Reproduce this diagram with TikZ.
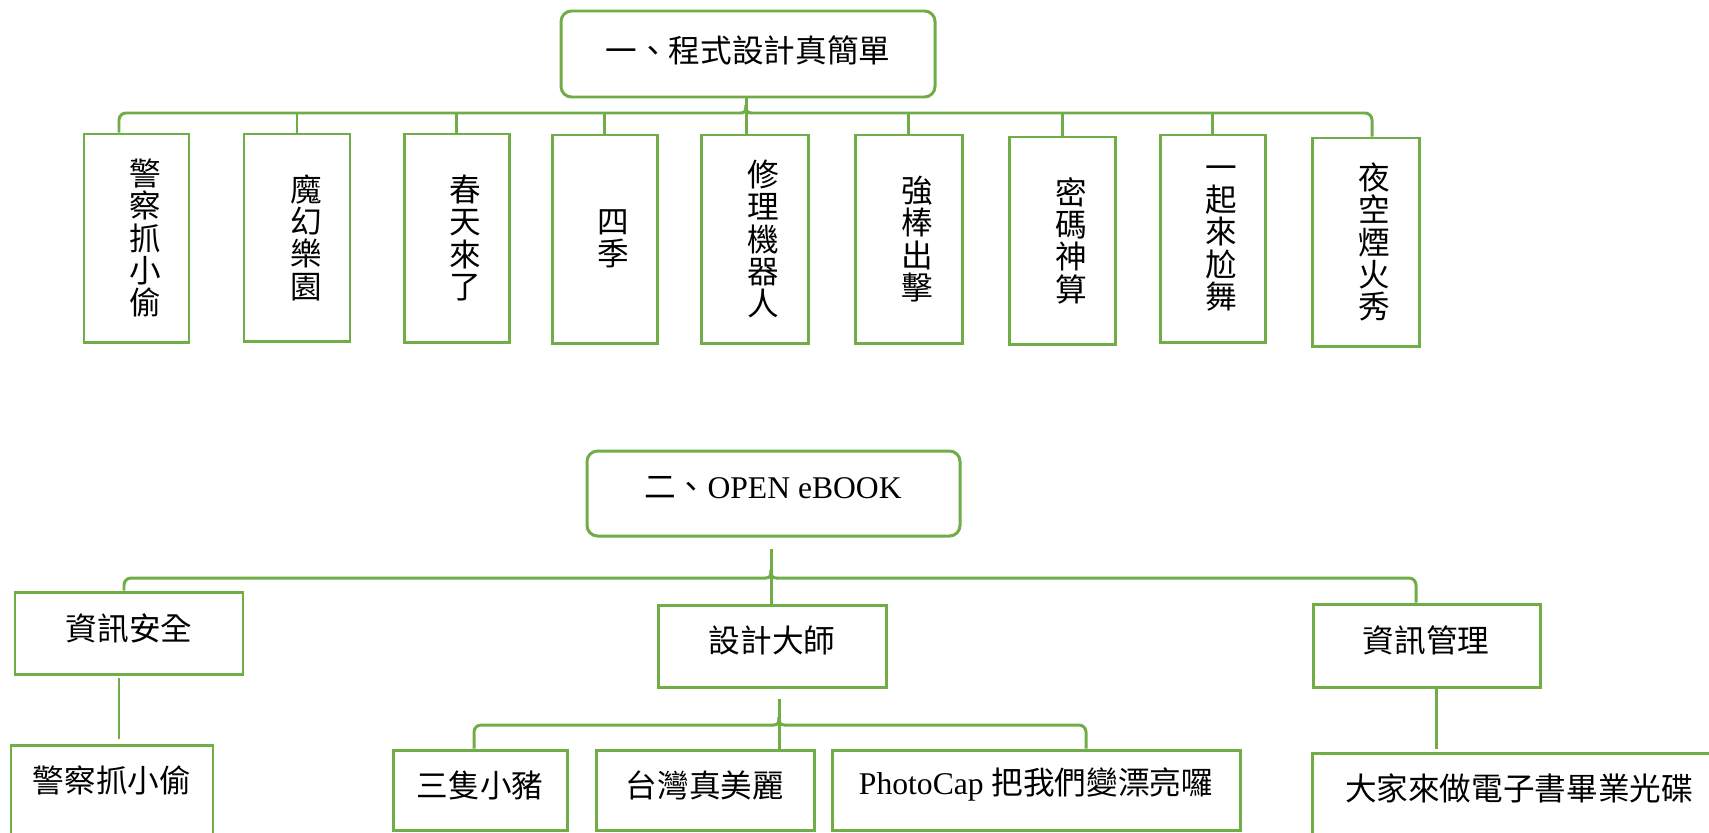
\documentclass[tikz,border=0pt]{standalone}
\usepackage{fontspec}
\setmainfont{Liberation Serif}
\newfontfamily\cjk{Noto Sans CJK TC}
\usetikzlibrary{calc,fit}
\definecolor{grn}{HTML}{70AD47}
\begin{document}
\begin{tikzpicture}[x=0.02cm,y=-0.02cm,
  box/.style={draw=grn, line width=1.7pt, inner sep=0pt, fill=none},
  rbox/.style={box, rounded corners=6pt},
  lbl/.style={font=\fontsize{18}{18}\selectfont, inner sep=0pt},
  vlbl/.style={font=\cjk\fontsize{18}{18.4}\selectfont, inner sep=0pt, align=center},
  conn/.style={draw=grn, line width=1.7pt}]
\clip (0,0) rectangle (1709,832);
\fill[white] (0,0) rectangle (1709,832);
% ---------- top tree ----------
\node[rbox, fit={(561,11) (935,97)}] (r1) {};
\node[lbl] (r1t) at (748,50) {\cjk 一、程式設計真簡單};
\node[box, fit={(84,134) (189,342)}] (b1) {};
\node[box, fit={(244,134) (350,341)}] (b2) {};
\node[box, fit={(404,134) (509,342)}] (b3) {};
\node[box, fit={(552,135) (657,343)}] (b4) {};
\node[box, fit={(701,135) (808,343)}] (b5) {};
\node[box, fit={(855,135) (962,343)}] (b6) {};
\node[box, fit={(1009,137) (1115,344)}] (b7) {};
\node[box, fit={(1160,135) (1265,342)}] (b8) {};
\node[box, fit={(1312,138) (1419,346)}] (b9) {};
\node[vlbl] (t1) at ($(b1.center)+(9,0)$) {警\\察\\抓\\小\\偷};
\node[vlbl] (t2) at ($(b2.center)+(9,0)$) {魔\\幻\\樂\\園};
\node[vlbl] (t3) at ($(b3.center)+(9,0)$) {春\\天\\來\\了};
\node[vlbl] (t4) at ($(b4.center)+(9,0)$) {四\\季};
\node[vlbl] (t5) at ($(b5.center)+(9,0)$) {修\\理\\機\\器\\人};
\node[vlbl] (t6) at ($(b6.center)+(9,0)$) {強\\棒\\出\\擊};
\node[vlbl] (t7) at ($(b7.center)+(9,0)$) {密\\碼\\神\\算};
\node[vlbl] (t8) at ($(b8.center)+(9,0)$) {一\\起\\來\\尬\\舞};
\node[vlbl] (t9) at ($(b9.center)+(9,0)$) {夜\\空\\煙\\火\\秀};
\coordinate (busL) at (119,113);
\coordinate (busR) at (1372,113);
\coordinate (busC) at (746,113);
\draw[conn] (busC |- r1.south) -- (busC |- b5.north);
\draw[conn,rounded corners=4pt] (busL |- b1.north) -- (busL) -- ($(busC)+(-5,0)$);
\draw[conn] ($(busC)+(-5.5,0)$) .. controls ($(busC)+(-1,0)$) and ($(busC)+(0,-2)$) .. ($(busC)+(0,-8)$);
\draw[conn,rounded corners=4pt] (busR |- b9.north) -- (busR) -- ($(busC)+(5,0)$);
\draw[conn] ($(busC)+(5.5,0)$) .. controls ($(busC)+(1,0)$) and ($(busC)+(0,-2)$) .. ($(busC)+(0,-8)$);
\foreach \b in {b2,b3,b4,b6,b7,b8}{
  \draw[conn] (\b.north) -- (\b.north |- busC);
}
% ---------- bottom tree ----------
\node[rbox, fit={(587,451) (960,536)}] (r2) {};
\node[lbl] (r2t) at (773,488) {{\cjk 二、}OPEN eBOOK};
\node[box, fit={(15,592) (243,674)}] (s1) {};
\node[box, fit={(658,605) (886,687)}] (s2) {};
\node[box, fit={(1313,604) (1540,687)}] (s3) {};
\node[lbl] (s1t) at (129,628) {\cjk 資訊安全};
\node[lbl] (s2t) at (772,640) {\cjk 設計大師};
\node[lbl] (s3t) at (1426,640) {\cjk 資訊管理};
\node[box, fit={(11,745) (213,900)}] (c1) {};
\node[box, fit={(393,750) (567,830)}] (d1) {};
\node[box, fit={(596,750) (814,830)}] (d2) {};
\node[box, fit={(832,750) (1240,830)}] (d3) {};
\node[box, fit={(1312,753) (1760,900)}] (c3) {};
\node[lbl] (c1t) at (112,780) {\cjk 警察抓小偷};
\node[lbl] (d1t) at (480,785) {\cjk 三隻小豬};
\node[lbl] (d2t) at (705,785) {\cjk 台灣真美麗};
\node[lbl] (d3t) at (1036,785) {PhotoCap {\cjk 把我們變漂亮囉}};
\node[lbl] (c3t) at (1519,788) {\cjk 大家來做電子書畢業光碟};
% main bus
\coordinate (bus2L) at (124,578);
\coordinate (bus2R) at (1416,578);
\coordinate (bus2C) at (771,578);
\draw[conn] ($(r2.south -| bus2C)+(0,11)$) -- (bus2C |- s2.north);
\draw[conn,rounded corners=4pt] (bus2L |- s1.north) -- (bus2L) -- ($(bus2C)+(-5,0)$);
\draw[conn] ($(bus2C)+(-5.5,0)$) .. controls ($(bus2C)+(-1,0)$) and ($(bus2C)+(0,-2)$) .. ($(bus2C)+(0,-8)$);
\draw[conn,rounded corners=4pt] (bus2R |- s3.north) -- (bus2R) -- ($(bus2C)+(5,0)$);
\draw[conn] ($(bus2C)+(5.5,0)$) .. controls ($(bus2C)+(1,0)$) and ($(bus2C)+(0,-2)$) .. ($(bus2C)+(0,-8)$);
% sub bus
\coordinate (bus3L) at (474,725);
\coordinate (bus3R) at (1086,725);
\coordinate (bus3C) at (779,725);
\draw[conn] ($(s2.south -| bus3C)+(0,10)$) -- (bus3C |- d2.north);
\draw[conn,rounded corners=4pt] (bus3L |- d1.north) -- (bus3L) -- ($(bus3C)+(-5,0)$);
\draw[conn] ($(bus3C)+(-5.5,0)$) .. controls ($(bus3C)+(-1,0)$) and ($(bus3C)+(0,-2)$) .. ($(bus3C)+(0,-8)$);
\draw[conn,rounded corners=4pt] (bus3R |- d3.north) -- (bus3R) -- ($(bus3C)+(5,0)$);
\draw[conn] ($(bus3C)+(5.5,0)$) .. controls ($(bus3C)+(1,0)$) and ($(bus3C)+(0,-2)$) .. ($(bus3C)+(0,-8)$);
% single links
\coordinate (v1) at (119,0);
\coordinate (v3) at (1436,0);
\draw[conn] ($(s1.south -| v1)+(0,2)$) -- ($(c1.north -| v1)+(0,-5)$);
\draw[conn] (s3.south -| v3) -- ($(c3.north -| v3)+(0,-3)$);
\end{tikzpicture}
\end{document}
